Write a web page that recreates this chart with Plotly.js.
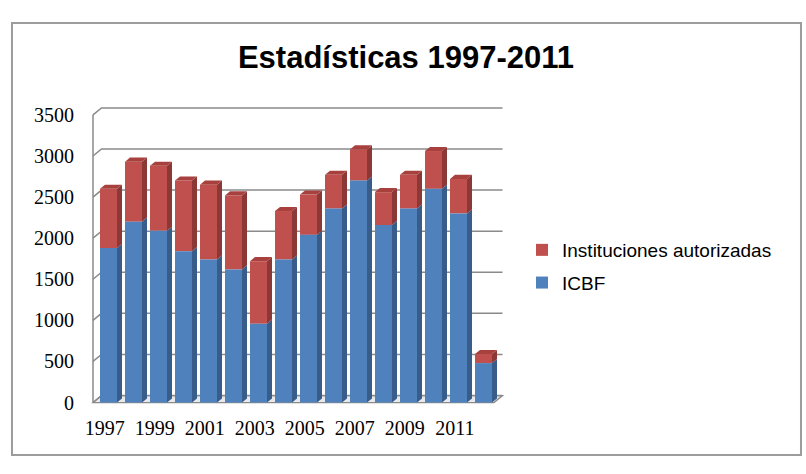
<!DOCTYPE html>
<html>
<head>
<meta charset="utf-8">
<script src="https://cdn.plot.ly/plotly-3.0.1.min.js"></script>
<style>
  html, body { margin: 0; padding: 0; background: #ffffff; }
  #chart { width: 806px; height: 474px; }
</style>
</head>
<body>
<div id="chart"></div>
<script>
// Yearly counts, ICBF vs. authorised institutions (stacked)
const years = [1997, 1998, 1999, 2000, 2001, 2002, 2003, 2004,
               2005, 2006, 2007, 2008, 2009, 2010, 2011, 2012];
const icbf = [1880, 2200, 2090, 1840, 1740, 1620, 960, 1740,
              2040, 2360, 2700, 2160, 2360, 2600, 2300, 480];
const instituciones = [720, 730, 790, 860, 910, 900, 760, 590,
                       490, 410, 380, 400, 410, 460, 420, 110];
const yTicks = [0, 500, 1000, 1500, 2000, 2500, 3000, 3500];
const xLabelYears = [1997, 1999, 2001, 2003, 2005, 2007, 2009, 2011];

const seriesNames = ['ICBF', 'Instituciones autorizadas'];

// pseudo-3D geometry, in axis units
const BAR_W = 0.68;      // front face width
const DEPTH_X = 0.2;     // bar depth, horizontal
const DEPTH_Y = 50;      // bar depth, vertical
const WALL_X = 0.34;     // wall/floor depth, horizontal
const WALL_Y = 85;       // wall/floor depth, vertical
const FLOOR_L = -0.62;
const FLOOR_R = 15.42;

const idx = years.map((_, i) => i);
const totals = icbf.map((v, i) => v + instituciones[i]);
const zeros = icbf.map(() => 0);

// side face polygons between lo and hi
function sideFaces(lo, hi) {
  const xs = [], ys = [];
  idx.forEach(i => {
    const x1 = i + BAR_W / 2;
    xs.push(x1, x1 + DEPTH_X, x1 + DEPTH_X, x1, x1, null);
    ys.push(lo[i], lo[i] + DEPTH_Y, hi[i] + DEPTH_Y, hi[i], lo[i], null);
  });
  return {xs, ys};
}
// top face polygons at height top
function topFaces(top) {
  const xs = [], ys = [];
  idx.forEach(i => {
    const x0 = i - BAR_W / 2, x1 = i + BAR_W / 2;
    xs.push(x0, x1, x1 + DEPTH_X, x0 + DEPTH_X, x0, null);
    ys.push(top[i], top[i], top[i] + DEPTH_Y, top[i] + DEPTH_Y, top[i], null);
  });
  return {xs, ys};
}

const blueSide = sideFaces(zeros, icbf);
const redSide = sideFaces(icbf, totals);
const redTop = topFaces(totals);

function faceTrace(poly, color) {
  return {
    type: 'scatter', mode: 'lines', x: poly.xs, y: poly.ys,
    fill: 'toself', fillcolor: color, line: {width: 0, color: color},
    showlegend: false, hoverinfo: 'skip'
  };
}

const traces = [
  {
    type: 'bar', name: seriesNames[1], x: idx, y: instituciones, base: icbf,
    width: BAR_W, marker: {color: '#C0504D', line: {width: 0}},
    legendgroup: 'inst'
  },
  {
    type: 'bar', name: seriesNames[0], x: idx, y: icbf, base: zeros,
    width: BAR_W, marker: {color: '#4F81BD', line: {width: 0}},
    legendgroup: 'icbf'
  },
  faceTrace(blueSide, '#385D8A'),
  faceTrace(redSide, '#8C3836'),
  faceTrace(redTop, '#A8413E')
];

// back wall gridlines, left wall and floor
const gridColor = '#8a8a8a';
const shapes = [];
shapes.push({
  type: 'path', xref: 'x', yref: 'y', layer: 'below',
  path: `M ${FLOOR_L},0 L ${FLOOR_R},0 L ${FLOOR_R + WALL_X},${WALL_Y} L ${FLOOR_L + WALL_X},${WALL_Y} Z`,
  fillcolor: '#e9e9e9', line: {color: gridColor, width: 1.3}
});
yTicks.forEach(v => {
  shapes.push({
    type: 'path', xref: 'x', yref: 'y', layer: 'below',
    path: `M ${FLOOR_L},${v} L ${FLOOR_L + WALL_X},${v + WALL_Y} L ${FLOOR_R + WALL_X},${v + WALL_Y}`,
    line: {color: gridColor, width: 1.5}
  });
});
shapes.push({
  type: 'line', xref: 'x', yref: 'y', layer: 'below',
  x0: FLOOR_L, x1: FLOOR_L, y0: 0, y1: yTicks[yTicks.length - 1],
  line: {color: gridColor, width: 1.5}
});
// chart frame
shapes.push({
  type: 'rect', xref: 'paper', yref: 'paper', layer: 'below',
  x0: -0.1904, x1: 1.7108, y0: -0.1667, y1: 1.2733,
  line: {color: '#9c9c9c', width: 2}, fillcolor: 'rgba(0,0,0,0)'
});

const serif = '"Liberation Serif", "DejaVu Serif", serif';
const sans = '"Liberation Sans", Arial, sans-serif';

const layout = {
  width: 806, height: 474, autosize: false,
  margin: {l: 91, r: 300, t: 105, b: 69, pad: 0},
  paper_bgcolor: '#ffffff', plot_bgcolor: 'rgba(0,0,0,0)',
  font: {family: sans, color: '#000000'},
  barmode: 'overlay',
  hovermode: false,
  title: {
    text: '<b>Estadísticas 1997-2011</b>',
    font: {family: sans, size: 31, color: '#000000'},
    x: 0.5037, xref: 'container', xanchor: 'center',
    y: 0.88, yref: 'container', yanchor: 'middle'
  },
  xaxis: {
    range: [-0.7, 15.9], showgrid: false, zeroline: false, showline: false,
    tickmode: 'array',
    tickvals: xLabelYears.map(y => years.indexOf(y) - 0.15),
    ticktext: xLabelYears.map(String),
    ticks: 'outside', ticklen: 5, tickcolor: 'rgba(0,0,0,0)',
    tickfont: {family: serif, size: 20, color: '#000000'},
    fixedrange: true
  },
  yaxis: {
    range: [-30, 3620], showgrid: false, zeroline: false, showline: false,
    tickmode: 'array', tickvals: yTicks, ticktext: yTicks.map(String),
    ticks: 'outside', ticklen: 12, tickcolor: 'rgba(0,0,0,0)',
    tickfont: {family: serif, size: 20, color: '#000000'},
    fixedrange: true
  },
  showlegend: true,
  legend: {
    x: 1.0386, xanchor: 'left', y: 0.58, yanchor: 'top',
    traceorder: 'grouped', tracegroupgap: 5,
    bgcolor: 'rgba(0,0,0,0)', borderwidth: 0,
    font: {family: sans, size: 19, color: '#000000'}
  },
  shapes: shapes
};

Plotly.newPlot('chart', traces, layout, {staticPlot: true, displayModeBar: false});
</script>
</body>
</html>
